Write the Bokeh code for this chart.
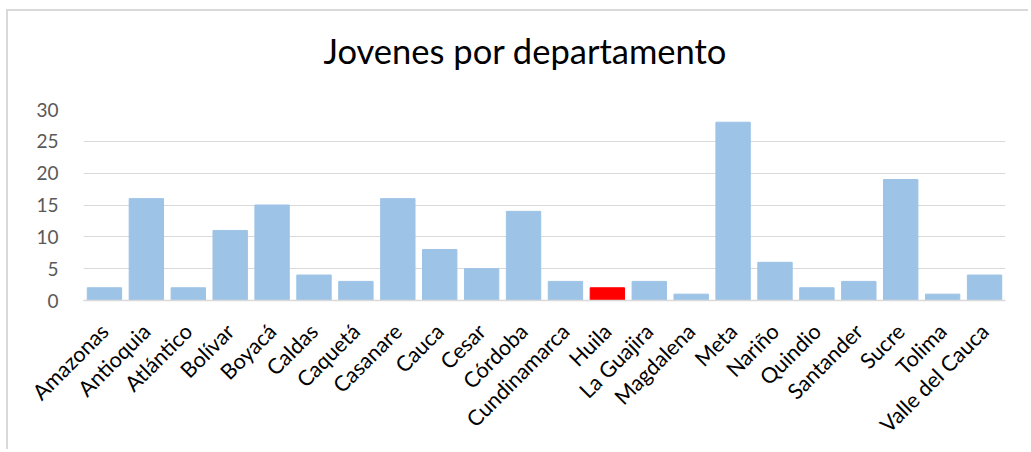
import math
from bokeh.plotting import figure
from bokeh.models import Range1d, ColumnDataSource
from bokeh.embed import file_html
from bokeh.resources import INLINE

departamentos = ["Amazonas", "Antioquia", "Atlántico", "Bolívar", "Boyacá", "Caldas",
                 "Caquetá", "Casanare", "Cauca", "Cesar", "Córdoba", "Cundinamarca",
                 "Huila", "La Guajira", "Magdalena", "Meta", "Nariño", "Quindio",
                 "Santander", "Sucre", "Tolima", "Valle del Cauca"]
jovenes = [2, 16, 2, 11, 15, 4, 3, 16, 8, 5, 14, 3, 2, 3, 1, 28, 6, 2, 3, 19, 1, 4]
destacado = "Huila"
titulo = "Jovenes por departamento"

colores = ["#FF0000" if d == destacado else "#9DC3E6" for d in departamentos]
src = ColumnDataSource(dict(x=departamentos, top=jovenes, color=colores))

FONT = "Lato"
p = figure(x_range=departamentos, y_range=Range1d(0, 30), width=1022, height=440,
           output_backend="svg", toolbar_location=None,
           min_border_left=75, min_border_right=25, min_border_top=98,
           min_border_bottom=151)
p.styles = {"border-left": "2px solid #d9d9d9", "border-top": "2px solid #d9d9d9",
            "margin-left": "6px", "margin-top": "9px"}

p.vbar(x="x", top="top", width=0.82, color="color", source=src)

p.title.text = titulo
p.title.align = "left"
p.title.offset = 240
p.title.standoff = 10
p.title.padding = dict(left=0, right=0, top=0, bottom=34)
p.title.text_font = FONT
p.title.text_font_size = "34.5px"
p.title.text_font_style = "normal"
p.title.text_color = "#000000"

p.outline_line_color = None
p.xgrid.grid_line_color = None
p.ygrid.grid_line_color = "#D9D9D9"
p.ygrid.grid_line_width = 1

p.yaxis.ticker = [0, 5, 10, 15, 20, 25, 30]
p.yaxis.axis_line_color = None
p.yaxis.major_tick_line_color = None
p.yaxis.minor_tick_line_color = None
p.yaxis.major_label_text_font = FONT
p.yaxis.major_label_text_font_size = "19px"
p.yaxis.major_label_text_color = "#595959"
p.yaxis.major_label_standoff = 19

p.xaxis.axis_line_color = "#D9D9D9"
p.xaxis.axis_line_width = 1.5
p.xaxis.major_tick_line_color = None
p.xaxis.minor_tick_line_color = None
p.xaxis.major_label_orientation = math.pi / 4
p.xaxis.major_label_text_font = FONT
p.xaxis.major_label_text_font_size = "21.5px"
p.xaxis.major_label_text_color = "#000000"
p.xaxis.major_label_standoff = 21

p.x_range.range_padding = 0

open("out.html", "w").write(file_html(p, INLINE))
